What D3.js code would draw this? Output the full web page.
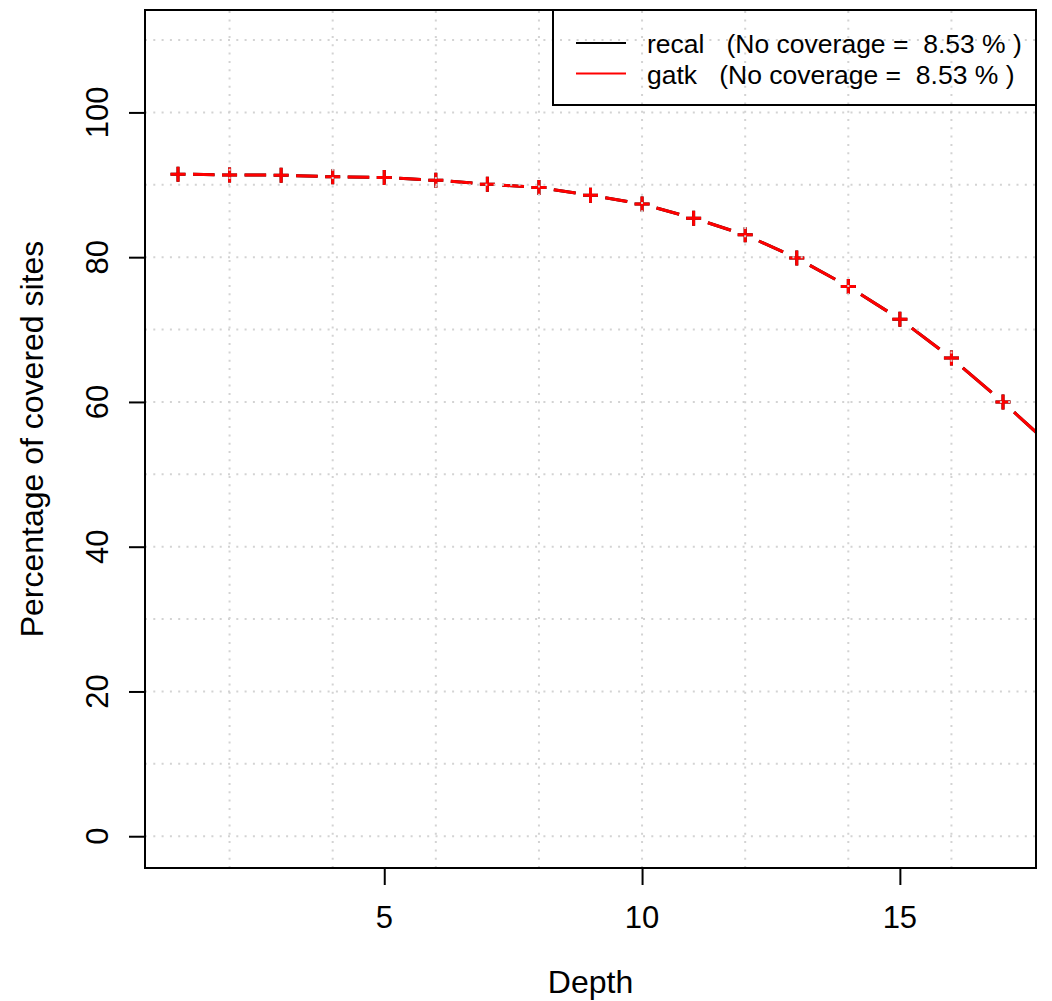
<!DOCTYPE html>
<html>
<head>
<meta charset="utf-8">
<script src="https://cdn.jsdelivr.net/npm/d3@7"></script>
<style>
  html, body { margin: 0; padding: 0; background: #ffffff; }
  svg text { font-family: "Liberation Sans", Arial, Helvetica, sans-serif; fill: #000; white-space: pre; }
</style>
</head>
<body>
<svg id="chart" width="1052" height="1001"></svg>
<script>
// ---- data ----
const depth = [1, 2, 3, 4, 5, 6, 7, 8, 9, 10, 11, 12, 13, 14, 15, 16, 17, 18];
const recal = [91.47, 91.37, 91.33, 91.10, 91.00, 90.64, 90.09, 89.62, 88.57, 87.33, 85.39, 83.09, 79.87, 75.95, 71.44, 66.06, 59.98, 53.5];
const gatk  = [91.47, 91.37, 91.33, 91.10, 91.00, 90.64, 90.09, 89.62, 88.57, 87.33, 85.39, 83.09, 79.87, 75.95, 71.44, 66.06, 59.98, 53.5];
const seriesNames = ["recal", "gatk"];
const legendLabels = ["recal   (No coverage =  8.53 % )", "gatk   (No coverage =  8.53 % )"];
const seriesColors = ["#000000", "#ff0000"];
const xTicks = [5, 10, 15];
const yTicks = [0, 20, 40, 60, 80, 100];
const gridX = [2, 4, 6, 8, 10, 12, 14, 16];
const gridY = [0, 10, 20, 30, 40, 50, 60, 70, 80, 90, 100, 110];
const xLabel = "Depth";
const yLabel = "Percentage of covered sites";

// ---- layout ----
const L = 145, R = 1036, T = 10, B = 868;
const svg = d3.select("#chart");
svg.append("rect").attr("width", 1052).attr("height", 1001).attr("fill", "#fff");

const x = d3.scaleLinear().domain([0.36, 17.64]).range([L, R]);
const y = d3.scaleLinear().domain([-4.39, 114.15]).range([B, T]);

svg.append("defs").append("clipPath").attr("id", "plotclip")
  .append("rect").attr("x", L).attr("y", T).attr("width", R - L).attr("height", B - T);

const plot = svg.append("g").attr("clip-path", "url(#plotclip)");

// series (type = "b": segments with gaps around points)
const series = [recal, gatk];
const gap = 15;
series.forEach((vals, si) => {
  const pts = depth.map((d, i) => [x(d), y(vals[i])]);
  const segs = [];
  for (let i = 0; i < pts.length - 1; i++) {
    const [x0, y0] = pts[i], [x1, y1] = pts[i + 1];
    const dx = x1 - x0, dy = y1 - y0, len = Math.hypot(dx, dy);
    if (len > 2 * gap) {
      const ux = dx / len, uy = dy / len;
      segs.push([x0 + ux * gap, y0 + uy * gap, x1 - ux * gap, y1 - uy * gap]);
    }
  }
  const g = plot.append("g");
  g.selectAll("line.seg").data(segs).join("line")
    .attr("x1", s => s[0]).attr("y1", s => s[1])
    .attr("x2", s => s[2]).attr("y2", s => s[3])
    .attr("stroke", seriesColors[si]).attr("stroke-width", 3);
  g.selectAll("path.pt").data(depth.map((d, i) => [d, vals[i]])).join("path")
    .attr("transform", p => `translate(${x(p[0])},${y(p[1])})`)
    .attr("d", "M-7.5,0H7.5M0,-7.5V7.5")
    .attr("stroke", seriesColors[si]).attr("stroke-width", 3).attr("fill", "none");
});

// grid (drawn over the series, as in the reference)
const grid = svg.append("g").attr("stroke", "#d3d3d3").attr("stroke-width", 2)
  .attr("stroke-dasharray", "2,6.3");
grid.selectAll("line.gx").data(gridX).join("line")
  .attr("x1", d => x(d)).attr("x2", d => x(d)).attr("y1", B).attr("y2", T);
grid.selectAll("line.gy").data(gridY).join("line")
  .attr("y1", d => y(d)).attr("y2", d => y(d)).attr("x1", L).attr("x2", R);

// box
svg.append("rect").attr("x", L).attr("y", T).attr("width", R - L).attr("height", B - T)
  .attr("fill", "none").attr("stroke", "#000").attr("stroke-width", 2);

// x axis
const xAxis = d3.axisBottom(x).tickValues(xTicks).tickSize(17).tickFormat("");
const gx = svg.append("g").attr("transform", `translate(0,${B})`).call(xAxis);
gx.select(".domain").remove();
gx.selectAll(".tick line").attr("stroke", "#000").attr("stroke-width", 2);
svg.selectAll("text.xt").data(xTicks).join("text").attr("class", "xt")
  .attr("x", d => x(d)).attr("y", 928).attr("text-anchor", "middle")
  .attr("font-size", 31).text(d => d);
svg.append("line").attr("x1", x(xTicks[0])).attr("x2", x(xTicks[xTicks.length - 1]))
  .attr("y1", B).attr("y2", B).attr("stroke", "#000").attr("stroke-width", 2);

// y axis
const yAxis = d3.axisLeft(y).tickValues(yTicks).tickSize(16).tickFormat("");
const gy = svg.append("g").attr("transform", `translate(${L},0)`).call(yAxis);
gy.select(".domain").remove();
gy.selectAll(".tick line").attr("stroke", "#000").attr("stroke-width", 2);
svg.selectAll("text.yt").data(yTicks).join("text").attr("class", "yt")
  .attr("transform", d => `translate(108,${y(d)}) rotate(-90)`)
  .attr("text-anchor", "middle").attr("font-size", 31).text(d => d);
svg.append("line").attr("x1", L).attr("x2", L)
  .attr("y1", y(yTicks[0])).attr("y2", y(yTicks[yTicks.length - 1]))
  .attr("stroke", "#000").attr("stroke-width", 2);

// axis titles
svg.append("text").attr("x", (L + R) / 2).attr("y", 993).attr("text-anchor", "middle")
  .attr("font-size", 32).text(xLabel);
svg.append("text").attr("transform", `translate(43,${(T + B) / 2}) rotate(-90)`)
  .attr("text-anchor", "middle").attr("font-size", 32).text(yLabel);

// legend
const lg = svg.append("g");
lg.append("rect").attr("x", 553).attr("y", T).attr("width", R - 553).attr("height", 95)
  .attr("fill", "none").attr("stroke", "#000").attr("stroke-width", 2);
const rows = lg.selectAll("g.row").data(seriesNames).join("g")
  .attr("transform", (d, i) => `translate(0,${43 + i * 30.5})`);
rows.append("line").attr("x1", 576).attr("x2", 626).attr("y1", 0).attr("y2", 0)
  .attr("stroke", (d, i) => seriesColors[i]).attr("stroke-width", 2);
rows.append("text").attr("x", 647).attr("y", 10).attr("font-size", 26.5)
  .text((d, i) => legendLabels[i]);
</script>
</body>
</html>
